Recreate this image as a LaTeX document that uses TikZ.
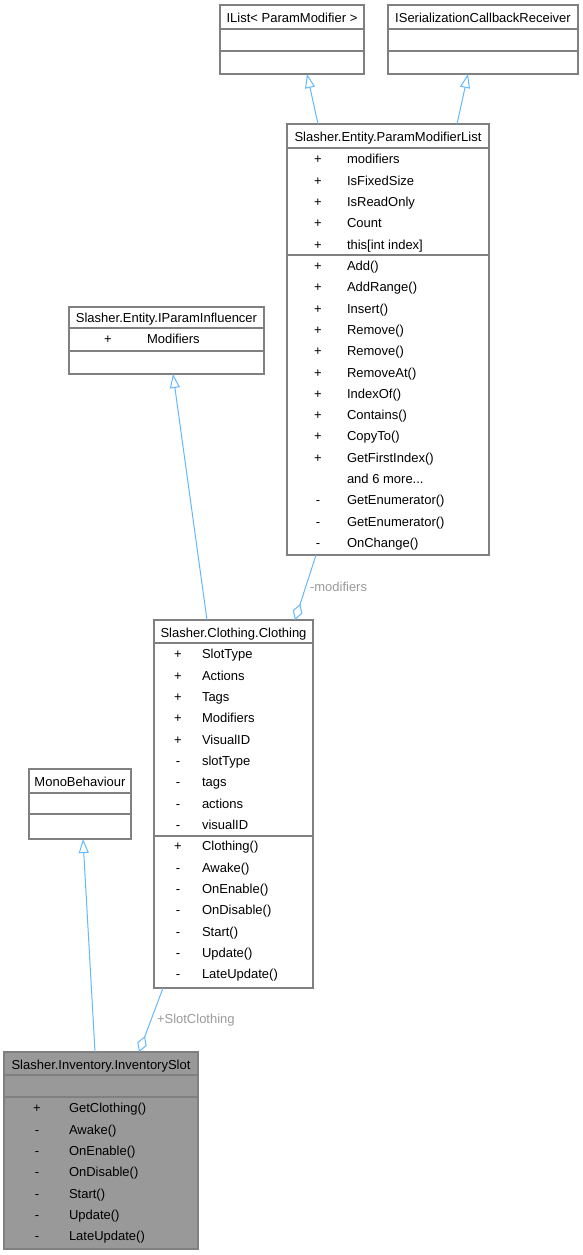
\documentclass[tikz,border=0pt]{standalone}
\usepackage{fontspec}
\setmainfont{Liberation Sans}
\usetikzlibrary{arrows.meta}
\definecolor{boxgray}{HTML}{808080}
\definecolor{edgeblue}{HTML}{63B8FF}
\definecolor{lblgray}{HTML}{9A9A9A}
\definecolor{invfill}{HTML}{999999}
\newcommand{\mydots}{.{}.{}.}
\tikzset{
  umlbox/.style={draw=boxgray, line width=1.5pt, fill=white, rectangle, inner sep=0pt, outer sep=0pt, anchor=north west},
  sepline/.style={draw=boxgray, line width=1.3pt},
  txt/.style={inner sep=0pt, outer sep=0pt, text height=9.4pt, text depth=0pt, font=\fontsize{13}{15}\selectfont},
  ttl/.style={txt, anchor=center},
  sym/.style={txt, anchor=center},
  mem/.style={txt, anchor=west},
  inh/.style={draw=edgeblue, line width=1pt, -{Triangle[open, length=14pt, width=10pt]}},
  agg/.style={draw=edgeblue, line width=1pt, -{Diamond[open, length=17pt, width=10pt]}},
  elabel/.style={txt, anchor=west, text=lblgray}
}
\begin{document}
\begin{tikzpicture}[x=1pt, y=-1pt]
\useasboundingbox (0,0) rectangle (583,1255);

% ---- IList< ParamModifier >
\node[umlbox, minimum width=144pt, minimum height=69pt] (ilist) at (220,5) {};
\draw[sepline] (220,29) -- (364,29);
\draw[sepline] (220,51) -- (364,51);
\node[ttl] (ilistT) at (292,18) {IList< ParamModifier >};

% ---- ISerializationCallbackReceiver
\node[umlbox, minimum width=190pt, minimum height=69pt] (iscr) at (388,5) {};
\draw[sepline] (388,29) -- (578,29);
\draw[sepline] (388,51) -- (578,51);
\node[ttl] (iscrT) at (483,18) {ISerializationCallbackReceiver};

% ---- Slasher.Entity.ParamModifierList
\node[umlbox, minimum width=202pt, minimum height=431pt] (pml) at (287,124) {};
\draw[sepline] (287,148) -- (489,148);
\draw[sepline] (287,255) -- (489,255);
\node[ttl] (pmlT) at (388,137) {Slasher.Entity.ParamModifierList};
\foreach \s/\t [count=\i from 0] in {+/modifiers, +/IsFixedSize, +/IsReadOnly, +/Count, +/this[int index], +/Add(), +/AddRange(), +/Insert(), +/Remove(), +/Remove(), +/RemoveAt(), +/IndexOf(), +/Contains(), +/CopyTo(), +/GetFirstIndex(), {}/{and 6 more\mydots}, -/GetEnumerator(), -/GetEnumerator(), -/OnChange()} {
  \node[sym] (pmlS\i) at (318,{159+21.33*\i}) {\s};
  \node[mem] (pmlM\i) at (347,{159+21.33*\i}) {\t};
}

% ---- Slasher.Entity.IParamInfluencer
\node[umlbox, minimum width=195pt, minimum height=67pt] (ipi) at (69,307) {};
\draw[sepline] (69,328) -- (264,328);
\draw[sepline] (69,351) -- (264,351);
\node[ttl] (ipiT) at (166.5,318) {Slasher.Entity.IParamInfluencer};
\node[sym] (ipiS0) at (108,339) {+};
\node[mem] (ipiM0) at (147,339) {Modifiers};

% ---- Slasher.Clothing.Clothing
\node[umlbox, minimum width=159pt, minimum height=368pt] (clothing) at (154,620) {};
\draw[sepline] (154,643) -- (313,643);
\draw[sepline] (154,836) -- (313,836);
\node[ttl] (clothingT) at (233.5,633) {Slasher.Clothing.Clothing};
\foreach \s/\t [count=\i from 0] in {+/SlotType, +/Actions, +/Tags, +/Modifiers, +/VisualID, -/slotType, -/tags, -/actions, -/visualID, +/Clothing(), -/Awake(), -/OnEnable(), -/OnDisable(), -/Start(), -/Update(), -/LateUpdate()} {
  \node[sym] (clS\i) at (178,{654+21.33*\i}) {\s};
  \node[mem] (clM\i) at (202,{654+21.33*\i}) {\t};
}

% ---- MonoBehaviour
\node[umlbox, minimum width=102pt, minimum height=70pt] (mono) at (29,769) {};
\draw[sepline] (29,793) -- (131,793);
\draw[sepline] (29,814) -- (131,814);
\node[ttl] (monoT) at (80,782) {MonoBehaviour};

% ---- Slasher.Inventory.InventorySlot
\node[umlbox, fill=invfill, minimum width=194pt, minimum height=197pt] (inv) at (4,1052) {};
\draw[sepline] (4,1075) -- (198,1075);
\draw[sepline] (4,1097) -- (198,1097);
\node[ttl] (invT) at (101,1065) {Slasher.Inventory.InventorySlot};
\foreach \s/\t [count=\i from 0] in {+/GetClothing(), -/Awake(), -/OnEnable(), -/OnDisable(), -/Start(), -/Update(), -/LateUpdate()} {
  \node[sym] (invS\i) at (37,{1108+21.33*\i}) {\s};
  \node[mem] (invM\i) at (69,{1108+21.33*\i}) {\t};
}

% ---- connectors
\draw[inh] ([xshift=31pt]pml.north west) -- ([xshift=87pt]ilist.south west);
\draw[inh] ([xshift=170pt]pml.north west) -- ([xshift=80pt]iscr.south west);
\draw[inh] ([xshift=53pt]clothing.north west) -- ([xshift=104pt]ipi.south west);
\draw[inh] ([xshift=91pt]inv.north west) -- ([xshift=54pt]mono.south west);
\draw[agg] ([xshift=29pt]pml.south west) -- ([xshift=141pt]clothing.north west);
\draw[agg] ([xshift=9pt]clothing.south west) -- ([xshift=135pt]inv.north west);

\node[elabel] (lblMod) at (310,587) {-modifiers};
\node[elabel] (lblSlot) at (157,1019) {+SlotClothing};
\end{tikzpicture}
\end{document}
